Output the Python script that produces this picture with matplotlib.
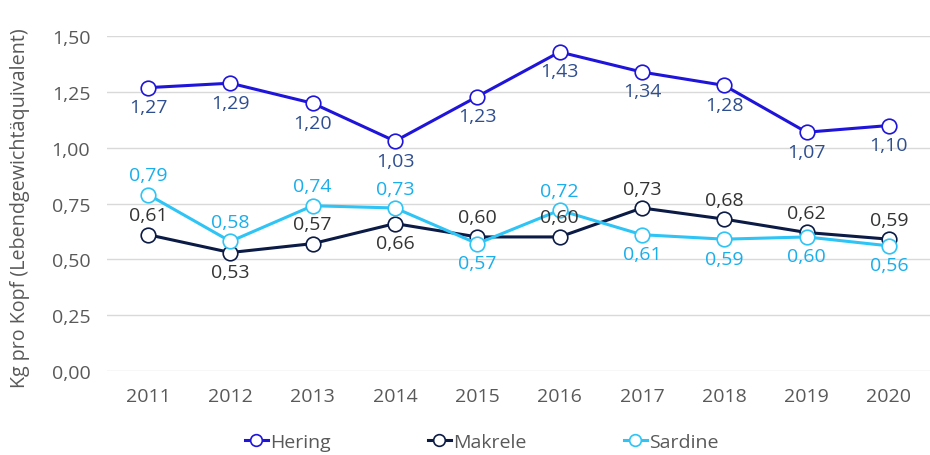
import matplotlib
matplotlib.use('Agg')
import matplotlib.pyplot as plt

plt.rcParams['font.family'] = ['Open Sans', 'DejaVu Sans']

years = ['2011', '2012', '2013', '2014', '2015', '2016', '2017', '2018', '2019', '2020']
hering = [1.27, 1.29, 1.20, 1.03, 1.23, 1.43, 1.34, 1.28, 1.07, 1.10]
makrele = [0.61, 0.53, 0.57, 0.66, 0.60, 0.60, 0.73, 0.68, 0.62, 0.59]
sardine = [0.79, 0.58, 0.74, 0.73, 0.57, 0.72, 0.61, 0.59, 0.60, 0.56]

# label position per point: 1 = above, -1 = below
hering_pos = [-1] * 10
makrele_pos = [1, -1, 1, -1, 1, 1, 1, 1, 1, 1]
sardine_pos = [1, 1, 1, 1, -1, 1, -1, -1, -1, -1]

series = [
    ('Hering', hering, hering_pos, '#1f14d9', '#2f4e8f'),
    ('Makrele', makrele, makrele_pos, '#0b1b45', '#333333'),
    ('Sardine', sardine, sardine_pos, '#2ec4f6', '#1aaeea'),
]

fig, ax = plt.subplots(figsize=(9.3, 4.56), dpi=100)
fig.subplots_adjust(left=0.115, right=1.0, top=0.918, bottom=0.185)

x = list(range(len(years)))
for name, vals, pos, col, lcol in series:
    ax.plot(x, vals, color=col, lw=2.2, marker='o', ms=10.5, mfc='white',
            mec=col, mew=1.2, label=name, zorder=3)
    for xi, v, p in zip(x, vals, pos):
        ax.annotate(f'{v:.2f}'.replace('.', ','), (xi, v),
                    xytext=(0, 14 * p), textcoords='offset points',
                    ha='center', va='center', fontsize=14, color=lcol, zorder=4)

ax.set_xlim(-0.5, len(years) - 0.5)
ax.set_ylim(0, 1.5)
ax.set_yticks([0, 0.25, 0.5, 0.75, 1.0, 1.25, 1.5])
ax.set_yticklabels([f'{t:.2f}'.replace('.', ',') for t in ax.get_yticks()])
ax.set_xticks(x)
ax.set_xticklabels(years)
ax.grid(axis='y', color='#d9d9d9', lw=1)
ax.set_axisbelow(True)
for s in ax.spines.values():
    s.set_visible(False)
ax.tick_params(length=0, labelsize=14, colors='#595959', pad=12)
ax.set_ylabel('Kg pro Kopf (Lebendgewichtäquivalent)', fontsize=14.2, color='#595959')
ax.yaxis.set_label_coords(-0.094, 0.49)

ax.legend(loc='center', bbox_to_anchor=(0.455, -0.212), ncol=3, frameon=False,
          fontsize=14, labelcolor='#595959', columnspacing=5.0, handlelength=1.2,
          handletextpad=0.1, markerscale=0.8)

fig.savefig('out.png', dpi=100)
